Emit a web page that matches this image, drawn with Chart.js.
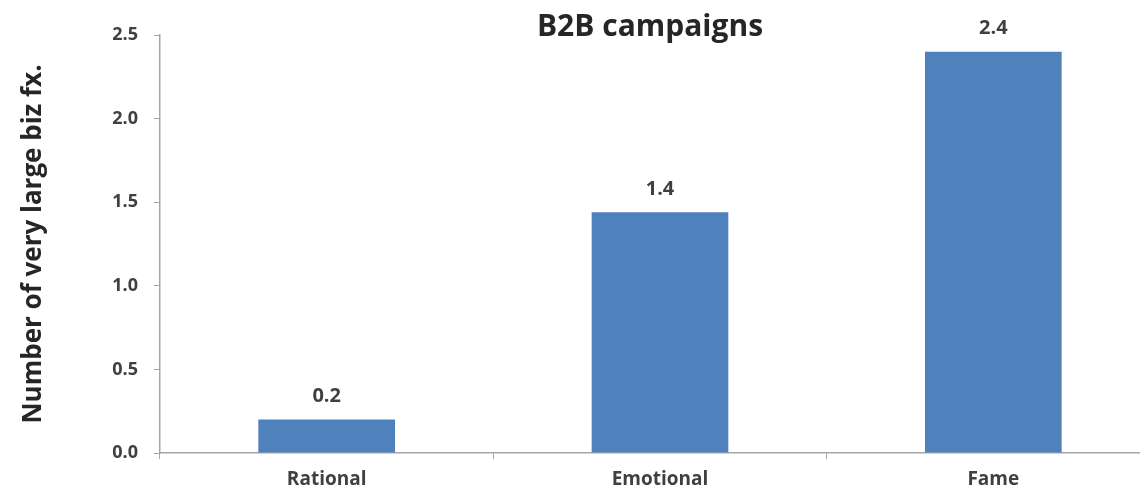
<!DOCTYPE html>
<html>
<head>
<meta charset="utf-8">
<script src="https://cdn.jsdelivr.net/npm/chart.js@4/dist/chart.umd.min.js"></script>
<style>
  html, body { margin: 0; padding: 0; background: #fff; overflow: hidden; }
  #wrap { width: 1160px; height: 497px; }
</style>
</head>
<body>
<div id="wrap"><canvas id="chart" width="1160" height="497"></canvas></div>
<script>
// datos del grafico
const categories = ["Rational", "Emotional", "Fame"];
const values = [0.2, 1.44, 2.4];
const valueLabels = ["0.2", "1.4", "2.4"];
const chartTitle = "B2B campaigns";
const yTitle = "Number of very large biz fx.";

const BAR_COLOR = '#4f81bd';
const AXIS_COLOR = '#a6a6a6';
const TEXT_COLOR = '#404040';
const FONT = "'Open Sans', 'DejaVu Sans', sans-serif";

// titulo dibujado a mano (centrado sobre el area, como en el original)
const titlePlugin = {
    id: 'titleText',
    afterDraw(chart) {
        const ctx = chart.ctx;
        ctx.save();
        ctx.font = `bold 30px ${FONT}`;
        ctx.fillStyle = '#262626';
        ctx.textAlign = 'center';
        ctx.textBaseline = 'middle';
        ctx.fillText(chartTitle, 650, 27);
        ctx.restore();
    }
};

// etiquetas de valor encima de cada barra
const labelPlugin = {
    id: 'valueLabels',
    afterDatasetsDraw(chart) {
        const ctx = chart.ctx;
        const meta = chart.getDatasetMeta(0);
        ctx.save();
        ctx.font = `bold 20px ${FONT}`;
        ctx.fillStyle = TEXT_COLOR;
        ctx.textAlign = 'center';
        ctx.textBaseline = 'middle';
        meta.data.forEach((bar, i) => {
            ctx.fillText(valueLabels[i], bar.x, bar.y - 23);
        });
        ctx.restore();
    }
};

new Chart(document.getElementById('chart').getContext('2d'), {
    type: 'bar',
    data: {
        labels: categories,
        datasets: [{
            data: values,
            backgroundColor: BAR_COLOR,
            borderWidth: 0,
            barPercentage: 0.41,
            categoryPercentage: 1.0
        }]
    },
    options: {
        responsive: false,
        animation: false,
        layout: { padding: { top: 35, right: 0, bottom: 0, left: 0 } },
        plugins: {
            legend: { display: false },
            title: { display: false },
            tooltip: { enabled: false }
        },
        scales: {
            x: {
                grid: { display: true, drawOnChartArea: false, tickLength: 6, color: AXIS_COLOR, offset: true },
                border: { color: AXIS_COLOR, width: 1.5 },
                ticks: { color: TEXT_COLOR, font: { family: FONT, size: 19, weight: 'bold' }, padding: 9 },
                afterFit: (scale) => { scale.height = 44; }
            },
            y: {
                min: 0,
                max: 2.5,
                ticks: {
                    stepSize: 0.5,
                    color: TEXT_COLOR,
                    font: { family: FONT, size: 18, weight: 'bold' },
                    padding: 16,
                    callback: (v) => Number(v).toFixed(1)
                },
                grid: { display: true, drawOnChartArea: false, tickLength: 6, color: AXIS_COLOR },
                border: { color: AXIS_COLOR, width: 1.5 },
                title: {
                    display: true,
                    text: yTitle,
                    color: '#262626',
                    font: { family: FONT, size: 26, weight: 'bold' },
                    padding: { top: 18, bottom: 0 }
                },
                afterFit: (scale) => { scale.width = 160; }
            }
        }
    },
    plugins: [titlePlugin, labelPlugin]
});
</script>
</body>
</html>
